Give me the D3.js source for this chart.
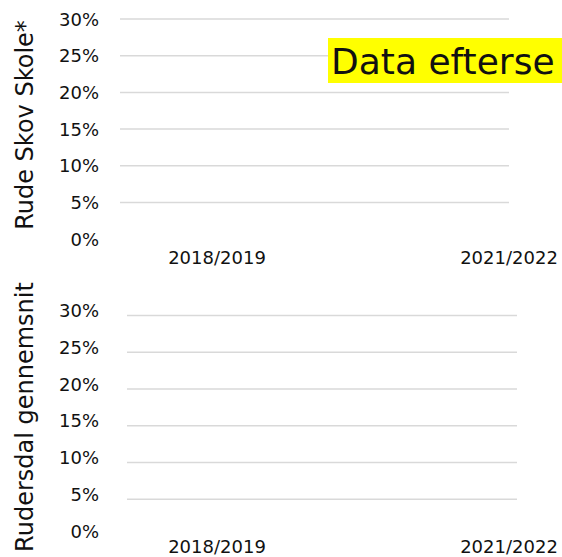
<!DOCTYPE html>
<html>
<head>
<meta charset="utf-8">
<script src="https://d3js.org/d3.v7.min.js"></script>
<style>
  body { margin: 0; background: #fff; }
  text { font-family: "DejaVu Sans", Verdana, sans-serif; fill: #111; }
  .grid line { stroke: #d9d9d9; stroke-width: 1.5; }
</style>
</head>
<body>
<svg width="562" height="557"></svg>
<script>
var categories = ["2018/2019", "2021/2022"];
var yTicks = [0, 0.05, 0.10, 0.15, 0.20, 0.25, 0.30];
var panelTitles = ["Rude Skov Skole*", "Rudersdal gennemsnit"];
// the reference shows no values yet, only the empty frames
var rudeSkovValues = [];
var rudersdalValues = [];
var notice = "Data efterse";

var svg = d3.select("svg");

var panels = [
    { title: panelTitles[0], values: rudeSkovValues, top: 18.5, bottom: 238.7, left: 120, right: 509, titleY: 125, labelY: 264, dy: 6.5 },
    { title: panelTitles[1], values: rudersdalValues, top: 315, bottom: 535.5, left: 127, right: 517, titleY: 417, labelY: 553, dy: 1.5 }
];

panels.forEach(function(p) {
    var y = d3.scaleLinear().domain([0, 0.30]).range([p.bottom, p.top]);
    var x = d3.scalePoint().domain(categories).range([217, 509]);

    var g = svg.append("g");

    var axis = g.append("g")
        .attr("class", "grid")
        .attr("transform", "translate(" + p.left + ",0)")
        .call(d3.axisLeft(y)
            .tickValues(yTicks)
            .tickSize(-(p.right - p.left))
            .tickPadding(p.left - 99)
            .tickFormat(d3.format(".0%")));
    axis.select(".domain").remove();
    axis.selectAll(".tick line").filter(function(d) { return d === 0; }).remove();
    axis.selectAll(".tick text")
        .attr("dy", null)
        .attr("y", p.dy)
        .style("font-size", "18px")
        .style("font-family", "'DejaVu Sans', Verdana, sans-serif")
        .attr("fill", "#111");

    g.selectAll(".xlab")
        .data(categories)
        .enter().append("text")
        .attr("class", "xlab")
        .attr("x", function(d) { return x(d); })
        .attr("y", p.labelY)
        .attr("text-anchor", "middle")
        .style("font-size", "18px")
        .text(function(d) { return d; });

    g.selectAll(".pt")
        .data(p.values)
        .enter().append("circle")
        .attr("cx", function(d, i) { return x(categories[i]); })
        .attr("cy", function(d) { return y(d); })
        .attr("r", 4);

    g.append("text")
        .attr("transform", "translate(33," + p.titleY + ") rotate(-90)")
        .attr("text-anchor", "middle")
        .style("font-size", "24px")
        .text(p.title);
});

svg.append("rect")
    .attr("x", 328)
    .attr("y", 38)
    .attr("width", 240)
    .attr("height", 45)
    .attr("fill", "#ffff00");

svg.append("text")
    .attr("x", 331)
    .attr("y", 74)
    .style("font-size", "36px")
    .attr("fill", "#000")
    .text(notice);
</script>
</body>
</html>
